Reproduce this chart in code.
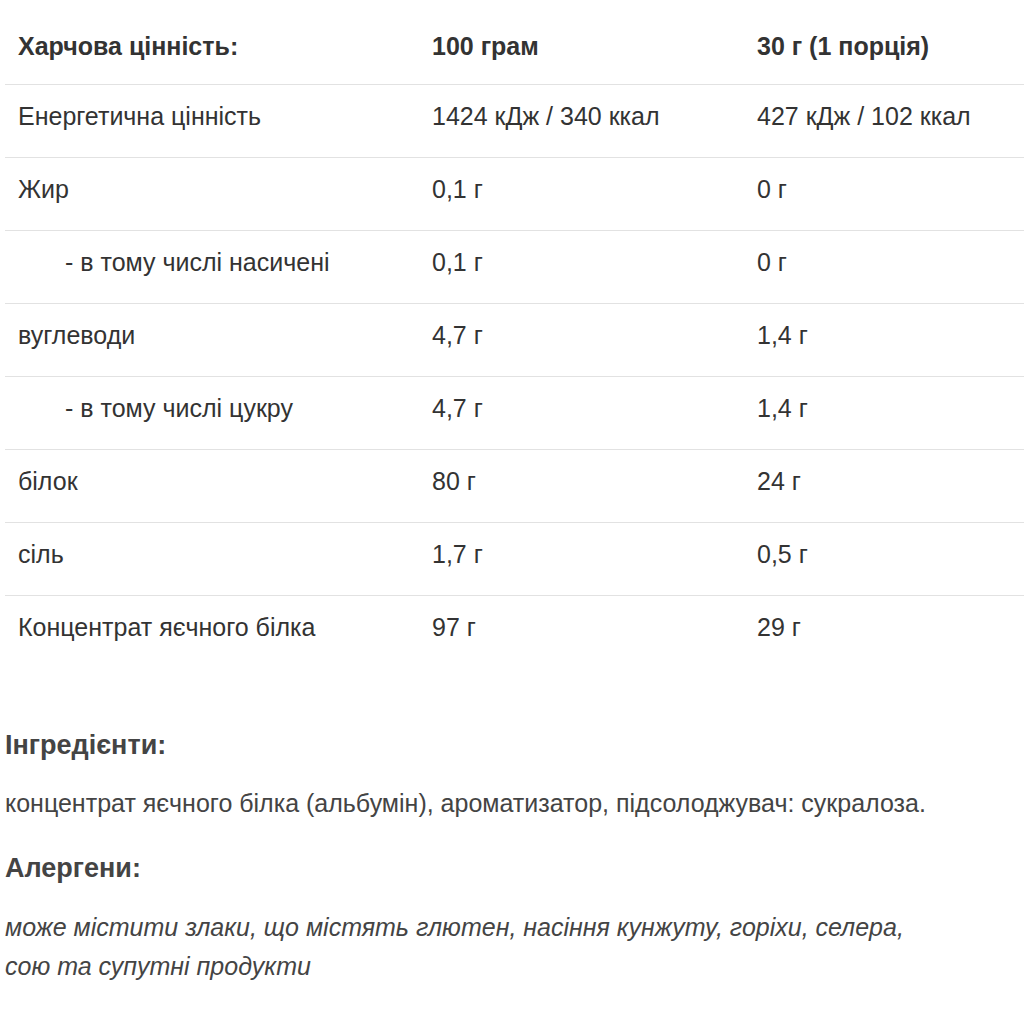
<!DOCTYPE html>
<html><head><meta charset="utf-8">
<script src="https://cdn.jsdelivr.net/npm/chart.js@4"></script>
<style>
body{margin:0;background:#fff;font-family:Arial,"Liberation Sans",sans-serif;color:#333;width:1024px;height:1024px;overflow:hidden}
table{position:absolute;left:5px;top:18px;width:1019px;border-collapse:collapse;font-size:25px;table-layout:fixed}
td{height:73px;box-sizing:border-box;border-bottom:1px solid #e2e2e2;padding:0 0 8px 13px;vertical-align:middle;white-space:nowrap}
tr.h td{font-weight:bold;height:66px}
tr:last-child td{border-bottom:none}
.c1{width:414px}.c2{width:325px}
td.ind{padding-left:60px}
h3{position:absolute;left:5px;margin:0;font-size:27px;font-weight:bold;color:#444;line-height:30px}
p{position:absolute;left:5px;margin:0;font-size:25px;color:#444;line-height:30px;white-space:nowrap}
</style></head><body>
<table id="t"></table>
<h3 style="top:730px">Інгредієнти:</h3>
<p style="top:788px">концентрат яєчного білка (альбумін), ароматизатор, підсолоджувач: сукралоза.</p>
<h3 style="top:853px">Алергени:</h3>
<p style="top:908px;font-style:italic;line-height:39px">може містити злаки, що містять глютен, насіння кунжуту, горіхи, селера,<br>сою та супутні продукти</p>
<script>
const headers=["Харчова цінність:","100 грам","30 г (1 порція)"];
const nutrients=["Енергетична цінність","Жир","- в тому числі насичені","вуглеводи","- в тому числі цукру","білок","сіль","Концентрат яєчного білка"];
const per100=["1424 кДж / 340 ккал","0,1 г","0,1 г","4,7 г","4,7 г","80 г","1,7 г","97 г"];
const perServing=["427 кДж / 102 ккал","0 г","0 г","1,4 г","1,4 г","24 г","0,5 г","29 г"];
const t=document.getElementById('t');
let h='<tr class="h"><td class="c1">'+headers[0]+'</td><td class="c2">'+headers[1]+'</td><td>'+headers[2]+'</td></tr>';
nutrients.forEach((n,i)=>{h+='<tr><td class="c1'+(n.startsWith('-')?' ind':'')+'">'+n+'</td><td>'+per100[i]+'</td><td>'+perServing[i]+'</td></tr>';});
t.innerHTML=h;
</script>
</body></html>
